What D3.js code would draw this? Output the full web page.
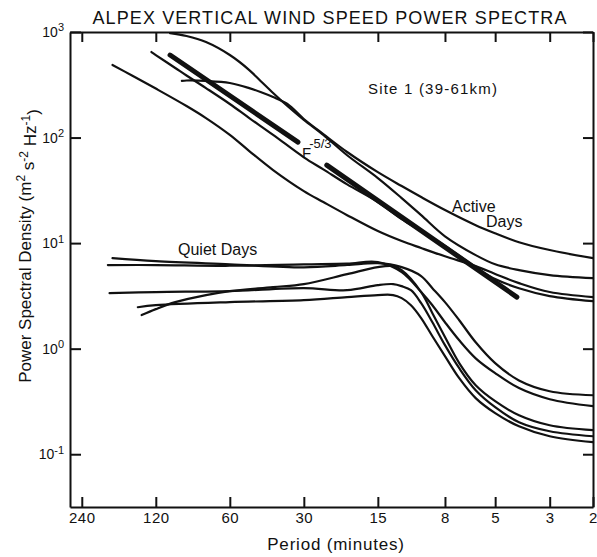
<!DOCTYPE html>
<html>
<head>
<meta charset="utf-8">
<script src="https://cdn.jsdelivr.net/npm/d3@7"></script>
<style>
body { margin: 0; background: #fff; }
svg { display: block; font-family: "Liberation Sans", Arial, sans-serif; }
</style>
</head>
<body>
<svg id="chart" width="597" height="557"></svg>
<script>
// period (minutes) / power spectral density pairs
var xTicks = [240, 120, 60, 30, 15, 8, 5, 3, 2]
var yTicks = [1000, 100, 10, 1, 0.1]
var yExp = ['3', '2', '1', '0', '-1']

// active days
var activeT = [[105,977],[90,916],[75,803],[60,605],[50,436],[45,344],[40,264],[35,199],[30,147],[25,106],[20,68],[15,41.3],[12,26.7],[10,18.4],[8,11.6],[6,7.7],[5,6.3],[4,5.55],[3,4.98],[2,4.66]]
var activeS = [[94,344],[90,347],[75,344],[60,329],[50,294],[45,270],[40,242],[35,208],[30,150],[25,108],[20,73],[15,47],[12,34.7],[10,27.3],[8,20.6],[6,14.8],[5,12.4],[4,10.2],[3,8.6],[2,7.2]]
var activeU = [[125,646],[120,605],[100,456],[90,387],[75,294],[60,208],[50,153],[40,106],[30,65],[25,50],[20,36],[15,24.5],[12,16.9],[10,13],[8,9.4],[6,5.9],[5,4.56],[4,3.74],[3,3.15],[2,2.82]]
var activeL = [[180,487],[150,387],[120,291],[90,199],[75,153],[60,106],[50,74.5],[40,49.2],[30,31.1],[25,24.5],[20,18.4],[15,13],[12,10.45],[10,8.98],[8,7.5],[6,6.05],[5,5.1],[4,4.18],[3,3.44],[2,3.08]]

// quiet days
var quietA = [[180,7.2],[120,6.74],[60,6.3],[30,5.9],[20,6.2],[15,6.46],[12,5.92],[10,4.87],[9,3.74],[8,2.76],[7,1.86],[6,1.15],[5,0.73],[4,0.5],[3,0.395],[2,0.362]]
var quietB = [[188,6.2],[120,6.2],[60,6.1],[30,6.3],[20,6.4],[15,6.6],[12,5.31],[10,3.44],[9,2.58],[8,1.78],[7,1.2],[6,0.81],[5,0.586],[4,0.423],[3,0.332],[2,0.285]]
var quietC = [[185,3.36],[120,3.44],[60,3.51],[30,3.74],[20,3.58],[15,4.0],[13,4.09],[12,3.91],[11,3.58],[10,2.7],[9,1.78],[8,1.08],[7,0.653],[6,0.404],[5,0.279],[4,0.201],[3,0.165],[2,0.148]]
var quietD = [[142,2.47],[120,2.58],[60,2.76],[30,2.88],[20,3.08],[15,3.22],[13,3.22],[12,3.01],[11,2.58],[10,1.95],[9,1.31],[8,0.85],[7,0.525],[6,0.34],[5,0.245],[4,0.184],[3,0.148],[2,0.13]]
var quietE = [[137,2.08],[120,2.37],[100,2.76],[75,3.22],[60,3.51],[40,3.83],[30,4.09],[20,5.08],[15,5.93],[13,6.05],[12,5.55],[10,3.44],[9,2.17],[8,1.29],[7,0.73],[6,0.45],[5,0.318],[4,0.234],[3,0.188],[2,0.169]]

// F^-5/3 reference segments
var slope1 = [[105,605],[31.7,90.6]]
var slope2 = [[24.2,54.8],[4.08,3.08]]

var thinCurves = [activeT, activeS, activeU, activeL, quietA, quietB, quietC, quietD, quietE]
var thickCurves = [slope1, slope2]

var svg = d3.select('#chart')
var box = { l: 70, r: 593, t: 32, b: 507 }
var ink = '#111'

var x = d3.scaleLog().domain([268, 2]).range([box.l, box.r])
var y = d3.scaleLog().domain([Math.pow(10, -1.5), 1000]).range([box.b, box.t])

var line = d3.line()
    .x(function(d) { return x(d[0]) })
    .y(function(d) { return y(d[1]) })
    .curve(d3.curveCatmullRom.alpha(0.5))

// axes, ticks pointing inward
var gx = svg.append('g').attr('transform', 'translate(0,' + box.b + ')')
    .call(d3.axisBottom(x).tickValues(xTicks).tickFormat(d3.format('d')).tickSize(-10).tickSizeOuter(0).tickPadding(5))
svg.append('g').attr('transform', 'translate(0,' + box.t + ')')
    .call(d3.axisTop(x).tickValues(xTicks).tickFormat('').tickSize(-10).tickSizeOuter(0))
var gy = svg.append('g').attr('transform', 'translate(' + box.l + ',0)')
    .call(d3.axisLeft(y).tickValues(yTicks).tickFormat('').tickSize(-11).tickSizeOuter(0).tickPadding(6))
svg.append('g').attr('transform', 'translate(' + box.r + ',0)')
    .call(d3.axisRight(y).tickValues(yTicks).tickFormat('').tickSize(-10).tickSizeOuter(0))

svg.selectAll('.domain, .tick line').attr('stroke', ink).attr('stroke-width', 2)
gx.selectAll('text').attr('font-size', 15).attr('letter-spacing', 0.5).attr('fill', ink).attr('font-family', null)

// y tick labels as 10 with superscript exponent
gy.selectAll('.tick text').each(function(d, i) {
    var t = d3.select(this).attr('font-size', 14).attr('fill', ink).attr('font-family', null)
    t.append('tspan').text('10')
    t.append('tspan').attr('dy', '-0.5em').attr('font-size', 11).text(yExp[i])
})

// curves
svg.append('g').selectAll('path').data(thinCurves).join('path')
    .attr('d', line)
    .attr('fill', 'none')
    .attr('stroke', ink)
    .attr('stroke-width', 2.2)
    .attr('stroke-linecap', 'round')

svg.append('g').selectAll('path').data(thickCurves).join('path')
    .attr('d', line)
    .attr('fill', 'none')
    .attr('stroke', ink)
    .attr('stroke-width', 5)
    .attr('stroke-linecap', 'round')

// texts
svg.append('text').attr('x', 330).attr('y', 24).attr('text-anchor', 'middle')
    .attr('font-size', 18).attr('letter-spacing', 1.1).attr('fill', ink)
    .text('ALPEX VERTICAL WIND SPEED POWER SPECTRA')

svg.append('text').attr('x', 336).attr('y', 550).attr('text-anchor', 'middle')
    .attr('font-size', 17).attr('letter-spacing', 0.8).attr('fill', ink).text('Period (minutes)')

var ylab = svg.append('text').attr('transform', 'translate(31,246) rotate(-90)')
    .attr('text-anchor', 'middle').attr('font-size', 17).attr('fill', ink)
ylab.append('tspan').text('Power Spectral Density (m')
ylab.append('tspan').attr('dy', '-0.5em').attr('font-size', 12).text('2')
ylab.append('tspan').attr('dy', '0.5em').text(' s')
ylab.append('tspan').attr('dy', '-0.5em').attr('font-size', 12).text('-2')
ylab.append('tspan').attr('dy', '0.5em').text(' Hz')
ylab.append('tspan').attr('dy', '-0.5em').attr('font-size', 12).text('-1')
ylab.append('tspan').attr('dy', '0.5em').text(')')

svg.append('text').attr('x', 368).attr('y', 94).attr('font-size', 15).attr('letter-spacing', 1.2).attr('fill', ink)
    .text('Site 1 (39-61km)')
svg.append('text').attr('x', 452).attr('y', 212).attr('font-size', 16).attr('fill', ink).text('Active')
svg.append('text').attr('x', 486).attr('y', 227).attr('font-size', 16).attr('fill', ink).text('Days')
svg.append('text').attr('x', 178).attr('y', 255).attr('font-size', 16).attr('fill', ink).text('Quiet Days')

var fl = svg.append('text').attr('x', 302).attr('y', 158).attr('font-size', 15).attr('fill', ink)
fl.append('tspan').text('F')
fl.append('tspan').attr('dx', -2).attr('dy', '-0.75em').attr('font-size', 13).text('-5/3')
</script>
</body>
</html>
